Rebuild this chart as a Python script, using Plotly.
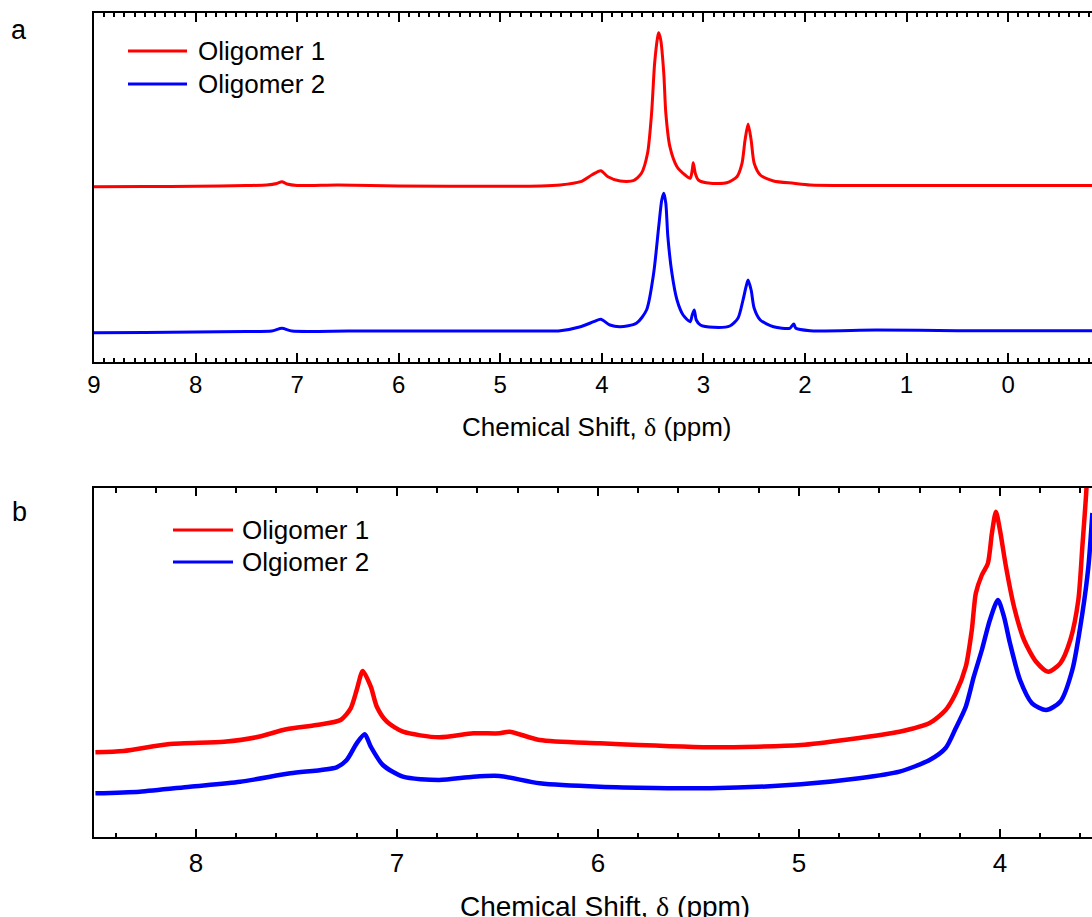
import plotly.graph_objects as go

# ---------------- data ----------------
# Panel a: full 1H NMR spectra, offset stacked (intensity in arbitrary units)
A_PPM_RED = [9.00, 8.50, 8.00, 7.50, 7.30, 7.20, 7.15, 7.10, 7.00, 6.60, 6.00, 5.00, 4.60,
             4.41, 4.21, 4.10, 4.01, 3.94, 3.82, 3.69, 3.61, 3.55, 3.51, 3.48, 3.45, 3.44,
             3.42, 3.39, 3.37, 3.33, 3.26, 3.18, 3.13, 3.11, 3.10, 3.08, 3.05, 2.93, 2.77,
             2.67, 2.62, 2.59, 2.56, 2.53, 2.50, 2.44, 2.31, 2.11, 1.95, 1.50, 1.00, 0.00, -0.83]
A_RED = [175.3, 175.5, 175.7, 176.5, 177.0, 178.5, 180.3, 178.0, 176.5, 177.0, 176.0, 175.8, 176.0,
         177.0, 180.3, 187.0, 191.3, 185.3, 181.0, 181.3, 188.7, 208.7, 249.0, 299.0, 325.3, 329.3,
         322.0, 288.7, 249.0, 215.3, 195.3, 187.0, 183.7, 192.0, 199.3, 188.7, 182.0, 178.7, 179.3,
         185.3, 198.7, 222.0, 238.0, 222.0, 198.7, 187.0, 181.0, 178.7, 177.0, 176.5, 176.5, 176.5, 176.5]

A_PPM_BLUE = [9.00, 8.50, 8.00, 7.50, 7.25, 7.15, 7.05, 6.50, 6.00, 5.00, 4.60, 4.41, 4.21,
              4.08, 4.01, 3.92, 3.82, 3.66, 3.56, 3.49, 3.44, 3.41, 3.39, 3.37, 3.35, 3.31,
              3.26, 3.20, 3.13, 3.11, 3.09, 3.07, 3.03, 2.90, 2.74, 2.66, 2.61, 2.58, 2.56,
              2.53, 2.50, 2.44, 2.31, 2.15, 2.11, 2.09, 1.95, 1.30, 0.50, -0.83]
A_BLUE = [29.3, 29.5, 30.0, 30.5, 31.0, 33.7, 31.0, 31.0, 31.0, 31.0, 31.0, 31.3, 35.3,
          40.3, 42.7, 37.0, 35.3, 38.7, 52.0, 88.7, 135.3, 162.0, 168.7, 158.7, 125.3, 88.7,
          62.0, 47.0, 40.3, 47.0, 52.0, 42.0, 37.0, 34.7, 36.0, 43.7, 62.0, 75.3, 82.0,
          72.0, 53.7, 42.0, 35.3, 33.7, 38.0, 33.7, 31.3, 32.0, 31.3, 31.3]

# Panel b: expanded region 8.5 - 3.5 ppm
B_PPM_RED = [8.50, 8.36, 8.13, 7.86, 7.70, 7.55, 7.40, 7.28, 7.23, 7.20, 7.17, 7.13, 7.10,
             7.05, 6.97, 6.79, 6.62, 6.49, 6.44, 6.29, 5.99, 5.44, 4.99, 4.75, 4.50, 4.35,
             4.27, 4.22, 4.17, 4.14, 4.12, 4.09, 4.06, 4.04, 4.02, 4.00, 3.97, 3.93, 3.88,
             3.82, 3.76, 3.70, 3.65, 3.61, 3.59, 3.57, 3.56]
B_RED = [84.7, 86.0, 93.0, 95.3, 99.7, 107.7, 112.0, 117.0, 128.7, 147.0, 166.0, 150.3, 130.3,
         115.3, 105.3, 99.7, 103.7, 103.7, 105.3, 97.0, 93.7, 89.7, 92.0, 97.7, 105.3, 114.0,
         127.0, 143.7, 170.3, 207.0, 243.7, 262.0, 273.7, 303.7, 325.3, 307.0, 270.3, 230.3, 197.0,
         175.3, 165.3, 173.7, 197.0, 237.0, 290.3, 347.0, 397.0]

B_PPM_BLUE = [8.50, 8.28, 8.03, 7.78, 7.53, 7.30, 7.25, 7.20, 7.16, 7.13, 7.07, 6.97, 6.79,
              6.62, 6.49, 6.29, 5.99, 5.44, 4.99, 4.70, 4.50, 4.35, 4.27, 4.22, 4.17, 4.13,
              4.09, 4.05, 4.01, 3.98, 3.95, 3.90, 3.84, 3.77, 3.70, 3.64, 3.59, 3.56, 3.54]
B_BLUE = [43.7, 45.3, 50.3, 55.3, 63.7, 69.7, 77.0, 93.7, 102.7, 90.3, 72.0, 60.3, 57.0,
          60.3, 61.0, 53.7, 50.3, 48.7, 52.7, 58.7, 65.3, 77.0, 89.0, 108.7, 130.3, 160.3,
          187.0, 217.0, 237.0, 220.3, 193.7, 157.0, 133.7, 127.0, 135.3, 167.0, 223.7, 270.3, 324.0]

NAMES_A = ["Oligomer 1", "Oligomer 2"]
NAMES_B = ["Oligomer 1", "Olgiomer 2"]
COLORS = ["#FF0000", "#0000FF"]
X_TITLE = "Chemical Shift, <span style='font-family:Liberation Serif'>δ</span> (ppm)"
X_TICKS_A = [9, 8, 7, 6, 5, 4, 3, 2, 1, 0]
X_TICKS_B = [8, 7, 6, 5, 4]

# ---------------- layout helpers ----------------
W, H = 1092, 917
FONT = "Liberation Sans, Arial, sans-serif"


def fx(p):
    return p / W


def fy(p):
    return 1 - p / H


fig = go.Figure()

spectra_a = [(A_PPM_RED, A_RED), (A_PPM_BLUE, A_BLUE)]
spectra_b = [(B_PPM_RED, B_RED), (B_PPM_BLUE, B_BLUE)]

for (xs, ys), name, col in zip(spectra_a, NAMES_A, COLORS):
    fig.add_trace(go.Scatter(x=xs, y=ys, mode="lines", name=name, showlegend=False,
                             line=dict(color=col, width=3, shape="spline", smoothing=0.7),
                             xaxis="x", yaxis="y"))
for (xs, ys), name, col in zip(spectra_b, NAMES_B, COLORS):
    fig.add_trace(go.Scatter(x=xs, y=ys, mode="lines", name=name, showlegend=False,
                             line=dict(color=col, width=4.5, shape="spline", smoothing=0.7),
                             xaxis="x2", yaxis="y2"))

common_x = dict(showline=True, linecolor="black", linewidth=2, mirror="ticks",
                ticks="inside", tickwidth=2, showgrid=False, zeroline=False,
                tickcolor="black", automargin=False)

fig.update_layout(
    width=W, height=H,
    margin=dict(l=0, r=0, t=0, b=0),
    paper_bgcolor="white", plot_bgcolor="white",
    font=dict(family=FONT, color="black"),
    showlegend=False,
    xaxis=dict(domain=[fx(94), 1], range=[9, -0.826], anchor="y",
               tickvals=X_TICKS_A, ticklen=9,
               minor=dict(dtick=0.1, tick0=0, ticklen=4, tickwidth=1.5, ticks="inside",
                          tickcolor="black", showgrid=False),
               tickfont=dict(size=24, family=FONT), ticklabelstandoff=0, **common_x),
    yaxis=dict(domain=[fy(362), fy(13)], range=[0, 349], anchor="x",
               showline=True, linecolor="black", linewidth=2, mirror=False,
               ticks="", showticklabels=False, showgrid=False, zeroline=False,
               automargin=False),
    xaxis2=dict(domain=[fx(94), 1], range=[8.507, 3.542], anchor="y2",
                tickvals=X_TICKS_B, ticklen=8,
                minor=dict(dtick=0.2, tick0=0, ticklen=4.5, tickwidth=1.5, ticks="inside",
                           tickcolor="black", showgrid=False),
                tickfont=dict(size=26, family=FONT), ticklabelstandoff=2, **common_x),
    yaxis2=dict(domain=[fy(837), fy(488)], range=[0, 349], anchor="x2",
                showline=True, linecolor="black", linewidth=2, mirror=False,
                ticks="", showticklabels=False, showgrid=False, zeroline=False,
                automargin=False),
)

shapes = []
annotations = []

# manual legends (long line samples)
legends = [
    (NAMES_A, 128, 187, [51, 84], 196),
    (NAMES_B, 173, 233, [530, 562], 240),
]
for names, x0, x1, ys, xt in legends:
    for name, col, yy in zip(names, COLORS, ys):
        shapes.append(dict(type="line", xref="paper", yref="paper",
                           x0=fx(x0), x1=fx(x1), y0=fy(yy), y1=fy(yy),
                           line=dict(color=col, width=3)))
        annotations.append(dict(text=name, xref="paper", yref="paper",
                                x=fx(xt), y=fy(yy), xanchor="left", yanchor="middle",
                                showarrow=False, font=dict(size=26, family=FONT)))

# panel letters
annotations.append(dict(text="a", xref="paper", yref="paper", x=fx(19), y=fy(30),
                        xanchor="center", yanchor="middle", showarrow=False,
                        font=dict(size=27, family=FONT)))
annotations.append(dict(text="b", xref="paper", yref="paper", x=fx(19), y=fy(512),
                        xanchor="center", yanchor="middle", showarrow=False,
                        font=dict(size=27, family=FONT)))

# axis titles
annotations.append(dict(text=X_TITLE, xref="paper", yref="paper", x=fx(596), y=fy(427),
                        xanchor="center", yanchor="middle", showarrow=False,
                        font=dict(size=26, family=FONT)))
annotations.append(dict(text=X_TITLE, xref="paper", yref="paper", x=fx(605), y=fy(906),
                        xanchor="center", yanchor="middle", showarrow=False,
                        font=dict(size=28, family=FONT)))

fig.update_layout(shapes=shapes, annotations=annotations)

# remove the default page margin so the figure fills the window exactly
fig.write_html("out.html", config={"displayModeBar": False},
               post_script="document.body.style.margin='0';document.body.style.overflow='hidden';")
